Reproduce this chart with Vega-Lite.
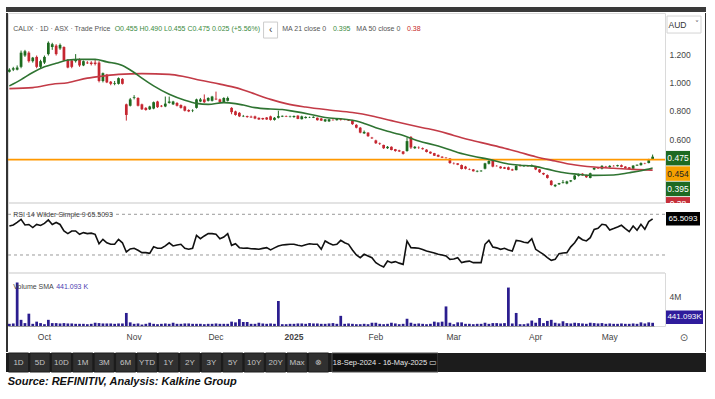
{
"$schema": "https://vega.github.io/schema/vega-lite/v6.json",
"background": "#ffffff",
"padding": {"left": 5, "top": 7, "right": 2, "bottom": 2},
"config": {"view": {"stroke": null}, "font": "Liberation Sans", "axis": {"grid": false, "title": null}},
"title": {"text": "Source: REFINITIV, Analysis: Kalkine Group", "orient": "bottom", "anchor": "start", "frame": "bounds", "font": "Liberation Sans", "fontSize": 11, "fontWeight": "bold", "fontStyle": "italic", "color": "#111111", "offset": 3, "dx": 2},
"spacing": 0,
"datasets": {
"px": [
{"d":"2024-09-18","o":1.075,"h":1.10,"l":1.07,"c":1.09,"v":300000,"r":58.5,"m21":0.975,"m50":0.956},
{"d":"2024-09-19","o":1.09,"h":1.11,"l":1.08,"c":1.10,"v":350000,"r":59.5},
{"d":"2024-09-20","o":1.09,"h":1.12,"l":1.085,"c":1.105,"v":6000000,"r":62},
{"d":"2024-09-23","o":1.11,"h":1.225,"l":1.10,"c":1.21,"v":850000,"r":65,"m21":1.02},
{"d":"2024-09-24","o":1.19,"h":1.23,"l":1.18,"c":1.22,"v":400000,"r":59.5},
{"d":"2024-09-25","o":1.21,"h":1.22,"l":1.14,"c":1.15,"v":1700000,"r":60},
{"d":"2024-09-26","o":1.15,"h":1.18,"l":1.14,"c":1.175,"v":300000,"r":57,"m21":1.07,"m50":0.963},
{"d":"2024-09-27","o":1.18,"h":1.19,"l":1.10,"c":1.11,"v":600000,"r":60},
{"d":"2024-09-30","o":1.11,"h":1.16,"l":1.10,"c":1.15,"v":400000,"r":59},
{"d":"2024-10-01","o":1.14,"h":1.19,"l":1.13,"c":1.18,"v":250000,"r":61,"m21":1.11},
{"d":"2024-10-02","o":1.20,"h":1.29,"l":1.19,"c":1.28,"v":850000,"r":64.4},
{"d":"2024-10-03","o":1.25,"h":1.28,"l":1.23,"c":1.27,"v":400000,"r":60,"m50":0.987},
{"d":"2024-10-04","o":1.26,"h":1.27,"l":1.19,"c":1.20,"v":400000,"r":62,"m21":1.135},
{"d":"2024-10-07","o":1.24,"h":1.275,"l":1.23,"c":1.265,"v":350000,"r":60},
{"d":"2024-10-08","o":1.25,"h":1.255,"l":1.15,"c":1.155,"v":400000,"r":53.6},
{"d":"2024-10-09","o":1.16,"h":1.165,"l":1.10,"c":1.105,"v":350000,"r":51,"m21":1.158,"m50":0.998},
{"d":"2024-10-10","o":1.155,"h":1.16,"l":1.10,"c":1.11,"v":350000,"r":53.6},
{"d":"2024-10-11","o":1.15,"h":1.20,"l":1.14,"c":1.16,"v":300000,"r":53.6},
{"d":"2024-10-14","o":1.16,"h":1.17,"l":1.11,"c":1.12,"v":300000,"r":50.3,"m21":1.163},
{"d":"2024-10-15","o":1.12,"h":1.155,"l":1.115,"c":1.15,"v":300000,"r":52},
{"d":"2024-10-16","o":1.14,"h":1.15,"l":1.13,"c":1.135,"v":250000,"r":51,"m50":1.03},
{"d":"2024-10-17","o":1.14,"h":1.15,"l":1.12,"c":1.13,"v":300000,"r":51.5},
{"d":"2024-10-18","o":1.14,"h":1.16,"l":1.12,"c":1.13,"v":450000,"r":50.3,"m21":1.163},
{"d":"2024-10-21","o":1.14,"h":1.15,"l":1.00,"c":1.01,"v":400000,"r":41},
{"d":"2024-10-22","o":1.01,"h":1.07,"l":1.00,"c":1.065,"v":350000,"r":45.4,"m50":1.045},
{"d":"2024-10-23","o":1.055,"h":1.06,"l":0.995,"c":1.00,"v":350000,"r":42,"m21":1.145},
{"d":"2024-10-24","o":1.005,"h":1.01,"l":0.98,"c":0.99,"v":350000,"r":40.5},
{"d":"2024-10-25","o":0.99,"h":1.01,"l":0.98,"c":0.995,"v":300000,"r":40.5},
{"d":"2024-10-28","o":0.99,"h":1.035,"l":0.985,"c":1.03,"v":350000,"r":45.4,"m50":1.057},
{"d":"2024-10-29","o":1.025,"h":1.03,"l":0.985,"c":0.99,"v":350000,"r":42,"m21":1.12},
{"d":"2024-10-30","o":0.845,"h":0.85,"l":0.73,"c":0.77,"v":1800000,"r":33},
{"d":"2024-10-31","o":0.835,"h":0.89,"l":0.83,"c":0.88,"v":500000,"r":36},
{"d":"2024-11-01","o":0.89,"h":0.91,"l":0.88,"c":0.895,"v":300000,"r":36.6,"m21":1.07},
{"d":"2024-11-04","o":0.89,"h":0.895,"l":0.83,"c":0.835,"v":350000,"r":34.6},
{"d":"2024-11-05","o":0.845,"h":0.85,"l":0.805,"c":0.81,"v":200000,"r":32.3,"m21":1.03,"m50":1.062},
{"d":"2024-11-06","o":0.82,"h":0.825,"l":0.80,"c":0.805,"v":300000,"r":32.3},
{"d":"2024-11-07","o":0.81,"h":0.835,"l":0.805,"c":0.83,"v":450000,"r":31.6},
{"d":"2024-11-08","o":0.815,"h":0.865,"l":0.81,"c":0.86,"v":300000,"r":38,"m21":0.975},
{"d":"2024-11-11","o":0.865,"h":0.87,"l":0.82,"c":0.825,"v":250000,"r":36.6},
{"d":"2024-11-12","o":0.835,"h":0.84,"l":0.825,"c":0.83,"v":300000,"r":36.6},
{"d":"2024-11-13","o":0.83,"h":0.90,"l":0.825,"c":0.85,"v":350000,"r":38.9},
{"d":"2024-11-14","o":0.855,"h":0.90,"l":0.85,"c":0.865,"v":300000,"r":42,"m21":0.916,"m50":1.057},
{"d":"2024-11-15","o":0.845,"h":0.87,"l":0.84,"c":0.865,"v":450000,"r":38.9},
{"d":"2024-11-18","o":0.855,"h":0.86,"l":0.83,"c":0.835,"v":300000,"r":39.8},
{"d":"2024-11-19","o":0.84,"h":0.845,"l":0.815,"c":0.82,"v":300000,"r":40.5},
{"d":"2024-11-20","o":0.83,"h":0.835,"l":0.795,"c":0.80,"v":350000,"r":36.6,"m21":0.874,"m50":1.04},
{"d":"2024-11-21","o":0.805,"h":0.81,"l":0.79,"c":0.795,"v":350000,"r":35.6},
{"d":"2024-11-22","o":0.80,"h":0.81,"l":0.79,"c":0.803,"v":300000,"r":36.6},
{"d":"2024-11-25","o":0.82,"h":0.885,"l":0.815,"c":0.88,"v":300000,"r":49.3,"m21":0.852},
{"d":"2024-11-26","o":0.865,"h":0.89,"l":0.86,"c":0.88,"v":300000,"r":46,"m50":1.015},
{"d":"2024-11-27","o":0.88,"h":0.915,"l":0.855,"c":0.86,"v":250000,"r":48.7},
{"d":"2024-11-28","o":0.87,"h":0.895,"l":0.865,"c":0.89,"v":300000,"r":51,"m21":0.845},
{"d":"2024-11-29","o":0.87,"h":0.905,"l":0.865,"c":0.90,"v":300000,"r":51},
{"d":"2024-12-02","o":0.885,"h":0.935,"l":0.875,"c":0.88,"v":350000,"r":50.3},
{"d":"2024-12-03","o":0.88,"h":0.885,"l":0.855,"c":0.86,"v":300000,"r":46,"m50":0.988},
{"d":"2024-12-04","o":0.86,"h":0.895,"l":0.855,"c":0.89,"v":300000,"r":47.7,"m21":0.857},
{"d":"2024-12-05","o":0.87,"h":0.90,"l":0.865,"c":0.89,"v":300000,"r":51},
{"d":"2024-12-06","o":0.82,"h":0.825,"l":0.775,"c":0.79,"v":600000,"r":39.5,"m50":0.97},
{"d":"2024-12-09","o":0.795,"h":0.80,"l":0.765,"c":0.77,"v":500000,"r":41,"m21":0.85},
{"d":"2024-12-10","o":0.785,"h":0.79,"l":0.755,"c":0.76,"v":950000,"r":37.2},
{"d":"2024-12-11","o":0.76,"h":0.77,"l":0.755,"c":0.763,"v":550000,"r":36.6,"m21":0.84,"m50":0.947},
{"d":"2024-12-12","o":0.762,"h":0.765,"l":0.75,"c":0.755,"v":550000,"r":36.8},
{"d":"2024-12-13","o":0.758,"h":0.765,"l":0.75,"c":0.752,"v":300000,"r":36.2},
{"d":"2024-12-16","o":0.76,"h":0.765,"l":0.74,"c":0.745,"v":300000,"r":36,"m21":0.822,"m50":0.918},
{"d":"2024-12-17","o":0.75,"h":0.752,"l":0.735,"c":0.738,"v":450000,"r":35.6},
{"d":"2024-12-18","o":0.748,"h":0.75,"l":0.735,"c":0.739,"v":350000,"r":36.5},
{"d":"2024-12-19","o":0.752,"h":0.755,"l":0.735,"c":0.738,"v":300000,"r":37.2},
{"d":"2024-12-20","o":0.76,"h":0.765,"l":0.73,"c":0.735,"v":350000,"r":35,"m21":0.812,"m50":0.88},
{"d":"2024-12-23","o":0.735,"h":0.755,"l":0.73,"c":0.75,"v":300000,"r":37},
{"d":"2024-12-24","o":0.75,"h":0.80,"l":0.745,"c":0.762,"v":3450000,"r":38.9},
{"d":"2024-12-27","o":0.758,"h":0.766,"l":0.755,"c":0.764,"v":250000,"r":39.8,"m21":0.808},
{"d":"2024-12-30","o":0.762,"h":0.766,"l":0.755,"c":0.758,"v":250000,"r":40.2,"m50":0.85},
{"d":"2024-12-31","o":0.758,"h":0.765,"l":0.752,"c":0.761,"v":300000,"r":40.5},
{"d":"2025-01-02","o":0.755,"h":0.766,"l":0.75,"c":0.763,"v":300000,"r":40.5,"m21":0.795},
{"d":"2025-01-03","o":0.765,"h":0.768,"l":0.74,"c":0.742,"v":350000,"r":39.5},
{"d":"2025-01-06","o":0.74,"h":0.765,"l":0.738,"c":0.76,"v":350000,"r":38.9},
{"d":"2025-01-07","o":0.748,"h":0.76,"l":0.745,"c":0.756,"v":300000,"r":40,"m50":0.826},
{"d":"2025-01-08","o":0.752,"h":0.758,"l":0.748,"c":0.754,"v":400000,"r":41,"m21":0.775},
{"d":"2025-01-09","o":0.75,"h":0.76,"l":0.748,"c":0.757,"v":350000,"r":40.5},
{"d":"2025-01-10","o":0.75,"h":0.752,"l":0.73,"c":0.733,"v":350000,"r":40.5},
{"d":"2025-01-13","o":0.745,"h":0.748,"l":0.728,"c":0.73,"v":300000,"r":35.6},
{"d":"2025-01-14","o":0.725,"h":0.74,"l":0.72,"c":0.739,"v":300000,"r":43.8,"m21":0.752},
{"d":"2025-01-15","o":0.725,"h":0.742,"l":0.72,"c":0.739,"v":350000,"r":41.5,"m50":0.805},
{"d":"2025-01-16","o":0.735,"h":0.74,"l":0.73,"c":0.733,"v":400000,"r":39.8},
{"d":"2025-01-17","o":0.733,"h":0.745,"l":0.73,"c":0.742,"v":300000,"r":40.5},
{"d":"2025-01-20","o":0.74,"h":0.745,"l":0.73,"c":0.735,"v":1400000,"r":44.4},
{"d":"2025-01-21","o":0.738,"h":0.742,"l":0.732,"c":0.736,"v":300000,"r":42,"m21":0.74},
{"d":"2025-01-22","o":0.736,"h":0.74,"l":0.728,"c":0.73,"v":350000,"r":40.5},
{"d":"2025-01-23","o":0.73,"h":0.735,"l":0.70,"c":0.705,"v":300000,"r":35,"m50":0.787},
{"d":"2025-01-24","o":0.70,"h":0.705,"l":0.675,"c":0.68,"v":250000,"r":30,"m21":0.727},
{"d":"2025-01-28","o":0.68,"h":0.685,"l":0.64,"c":0.645,"v":250000,"r":27.4},
{"d":"2025-01-29","o":0.64,"h":0.66,"l":0.635,"c":0.65,"v":300000,"r":30.7,"m21":0.71},
{"d":"2025-01-30","o":0.645,"h":0.648,"l":0.615,"c":0.62,"v":250000,"r":29},
{"d":"2025-01-31","o":0.61,"h":0.615,"l":0.60,"c":0.605,"v":450000,"r":27.4,"m50":0.763},
{"d":"2025-02-03","o":0.59,"h":0.595,"l":0.565,"c":0.57,"v":450000,"r":22.5,"m21":0.68},
{"d":"2025-02-04","o":0.57,"h":0.575,"l":0.558,"c":0.566,"v":300000,"r":20},
{"d":"2025-02-05","o":0.558,"h":0.56,"l":0.53,"c":0.535,"v":250000,"r":18.2},
{"d":"2025-02-06","o":0.535,"h":0.55,"l":0.53,"c":0.545,"v":300000,"r":24,"m21":0.655},
{"d":"2025-02-07","o":0.545,"h":0.548,"l":0.52,"c":0.522,"v":450000,"r":22.5,"m50":0.73},
{"d":"2025-02-10","o":0.528,"h":0.53,"l":0.51,"c":0.515,"v":350000,"r":23.5},
{"d":"2025-02-11","o":0.52,"h":0.524,"l":0.508,"c":0.512,"v":250000,"r":22,"m21":0.633},
{"d":"2025-02-12","o":0.512,"h":0.515,"l":0.49,"c":0.495,"v":300000,"r":20.8},
{"d":"2025-02-13","o":0.515,"h":0.61,"l":0.51,"c":0.585,"v":1000000,"r":43.8,"m50":0.704},
{"d":"2025-02-14","o":0.615,"h":0.62,"l":0.53,"c":0.54,"v":450000,"r":37.2},
{"d":"2025-02-17","o":0.535,"h":0.55,"l":0.53,"c":0.545,"v":300000,"r":37},
{"d":"2025-02-18","o":0.54,"h":0.548,"l":0.53,"c":0.538,"v":350000,"r":36.6,"m21":0.586},
{"d":"2025-02-19","o":0.535,"h":0.54,"l":0.525,"c":0.528,"v":300000,"r":35.5,"m50":0.68},
{"d":"2025-02-20","o":0.525,"h":0.528,"l":0.505,"c":0.508,"v":250000,"r":34},
{"d":"2025-02-21","o":0.51,"h":0.512,"l":0.495,"c":0.498,"v":300000,"r":33},
{"d":"2025-02-24","o":0.50,"h":0.502,"l":0.48,"c":0.482,"v":600000,"r":32},
{"d":"2025-02-25","o":0.488,"h":0.49,"l":0.472,"c":0.475,"v":500000,"r":30.7,"m21":0.55,"m50":0.657},
{"d":"2025-02-26","o":0.475,"h":0.478,"l":0.465,"c":0.468,"v":600000,"r":30},
{"d":"2025-02-27","o":0.468,"h":0.472,"l":0.462,"c":0.465,"v":2700000,"r":29},
{"d":"2025-02-28","o":0.462,"h":0.465,"l":0.425,"c":0.43,"v":450000,"r":25.7},
{"d":"2025-03-03","o":0.43,"h":0.435,"l":0.42,"c":0.428,"v":250000,"r":26,"m50":0.625},
{"d":"2025-03-04","o":0.428,"h":0.43,"l":0.415,"c":0.418,"v":500000,"r":27.4,"m21":0.505},
{"d":"2025-03-05","o":0.416,"h":0.42,"l":0.385,"c":0.388,"v":500000,"r":22.5},
{"d":"2025-03-06","o":0.405,"h":0.41,"l":0.385,"c":0.39,"v":300000,"r":23.5},
{"d":"2025-03-07","o":0.388,"h":0.392,"l":0.38,"c":0.385,"v":300000,"r":24,"m50":0.595},
{"d":"2025-03-10","o":0.385,"h":0.388,"l":0.37,"c":0.372,"v":250000,"r":22.5,"m21":0.478},
{"d":"2025-03-11","o":0.37,"h":0.378,"l":0.365,"c":0.375,"v":300000,"r":22.5},
{"d":"2025-03-12","o":0.372,"h":0.38,"l":0.368,"c":0.376,"v":300000,"r":22.5},
{"d":"2025-03-13","o":0.39,"h":0.432,"l":0.385,"c":0.428,"v":450000,"r":40.5},
{"d":"2025-03-14","o":0.425,"h":0.45,"l":0.42,"c":0.445,"v":300000,"r":44.4,"m21":0.456,"m50":0.562},
{"d":"2025-03-17","o":0.445,"h":0.448,"l":0.40,"c":0.405,"v":400000,"r":37.9},
{"d":"2025-03-18","o":0.41,"h":0.415,"l":0.405,"c":0.408,"v":400000,"r":37},
{"d":"2025-03-19","o":0.405,"h":0.408,"l":0.39,"c":0.393,"v":350000,"r":35.6},
{"d":"2025-03-20","o":0.40,"h":0.403,"l":0.388,"c":0.39,"v":400000,"r":36.6,"m50":0.535},
{"d":"2025-03-21","o":0.40,"h":0.405,"l":0.38,"c":0.383,"v":5300000,"r":35,"m21":0.423},
{"d":"2025-03-24","o":0.385,"h":0.39,"l":0.375,"c":0.378,"v":350000,"r":34},
{"d":"2025-03-25","o":0.38,"h":0.415,"l":0.378,"c":0.41,"v":1800000,"r":44.4},
{"d":"2025-03-26","o":0.41,"h":0.42,"l":0.405,"c":0.408,"v":250000,"r":43.8,"m21":0.415,"m50":0.505},
{"d":"2025-03-27","o":0.408,"h":0.412,"l":0.402,"c":0.41,"v":250000,"r":42.5},
{"d":"2025-03-28","o":0.41,"h":0.415,"l":0.405,"c":0.407,"v":350000,"r":42},
{"d":"2025-03-31","o":0.407,"h":0.42,"l":0.405,"c":0.415,"v":750000,"r":46,"m21":0.41},
{"d":"2025-04-01","o":0.405,"h":0.41,"l":0.38,"c":0.385,"v":450000,"r":35.6,"m50":0.475},
{"d":"2025-04-02","o":0.385,"h":0.388,"l":0.36,"c":0.365,"v":1100000,"r":33},
{"d":"2025-04-03","o":0.36,"h":0.362,"l":0.345,"c":0.35,"v":400000,"r":30.7},
{"d":"2025-04-04","o":0.345,"h":0.35,"l":0.32,"c":0.325,"v":700000,"r":27.5,"m21":0.387},
{"d":"2025-04-07","o":0.305,"h":0.31,"l":0.27,"c":0.275,"v":850000,"r":24.8},
{"d":"2025-04-08","o":0.266,"h":0.28,"l":0.26,"c":0.276,"v":450000,"r":25.7,"m50":0.445},
{"d":"2025-04-09","o":0.28,"h":0.29,"l":0.275,"c":0.288,"v":350000,"r":31.3},
{"d":"2025-04-10","o":0.29,"h":0.31,"l":0.285,"c":0.295,"v":650000,"r":32,"m21":0.363},
{"d":"2025-04-11","o":0.285,"h":0.305,"l":0.28,"c":0.30,"v":400000,"r":32.3},
{"d":"2025-04-14","o":0.30,"h":0.31,"l":0.295,"c":0.308,"v":350000,"r":38,"m50":0.422},
{"d":"2025-04-15","o":0.315,"h":0.345,"l":0.31,"c":0.342,"v":450000,"r":42},
{"d":"2025-04-16","o":0.34,"h":0.355,"l":0.335,"c":0.352,"v":400000,"r":47.7,"m21":0.35},
{"d":"2025-04-17","o":0.355,"h":0.358,"l":0.34,"c":0.343,"v":350000,"r":45},
{"d":"2025-04-22","o":0.345,"h":0.348,"l":0.325,"c":0.33,"v":300000,"r":43.8},
{"d":"2025-04-23","o":0.325,"h":0.362,"l":0.322,"c":0.358,"v":450000,"r":47},
{"d":"2025-04-24","o":0.385,"h":0.40,"l":0.38,"c":0.395,"v":400000,"r":55.2,"m21":0.343,"m50":0.402},
{"d":"2025-04-28","o":0.395,"h":0.40,"l":0.388,"c":0.392,"v":350000,"r":56.2},
{"d":"2025-04-29","o":0.39,"h":0.415,"l":0.385,"c":0.41,"v":400000,"r":60.2},
{"d":"2025-04-30","o":0.405,"h":0.41,"l":0.395,"c":0.40,"v":300000,"r":59.5},
{"d":"2025-05-01","o":0.40,"h":0.415,"l":0.398,"c":0.41,"v":350000,"r":54.6},
{"d":"2025-05-02","o":0.41,"h":0.415,"l":0.405,"c":0.408,"v":300000,"r":56,"m21":0.346,"m50":0.393},
{"d":"2025-05-05","o":0.408,"h":0.418,"l":0.405,"c":0.415,"v":300000,"r":57.5},
{"d":"2025-05-06","o":0.415,"h":0.42,"l":0.40,"c":0.403,"v":350000,"r":59.2},
{"d":"2025-05-07","o":0.405,"h":0.408,"l":0.39,"c":0.395,"v":300000,"r":56},
{"d":"2025-05-08","o":0.40,"h":0.402,"l":0.385,"c":0.388,"v":300000,"r":53,"m21":0.362},
{"d":"2025-05-09","o":0.39,"h":0.415,"l":0.388,"c":0.412,"v":350000,"r":58.5,"m50":0.385},
{"d":"2025-05-12","o":0.412,"h":0.42,"l":0.41,"c":0.418,"v":300000,"r":54.3},
{"d":"2025-05-13","o":0.415,"h":0.435,"l":0.412,"c":0.43,"v":500000,"r":60.2,"m21":0.376},
{"d":"2025-05-14","o":0.428,"h":0.432,"l":0.422,"c":0.426,"v":350000,"r":55.2},
{"d":"2025-05-15","o":0.43,"h":0.46,"l":0.428,"c":0.45,"v":500000,"r":62.8},
{"d":"2025-05-16","o":0.455,"h":0.49,"l":0.455,"c":0.475,"v":441093,"r":65.5093,"m21":0.395,"m50":0.38}
],
"tags": [
{"tag":"a","lab":"0.475"},{"tag":"b","lab":"0.454"},{"tag":"c","lab":"0.395"},{"tag":"d","lab":"0.38"}
]
},
"vconcat": [
{"width": 700, "height": 5, "view": {"fill": "#3a3a3a", "stroke": null}, "data": {"values": []}, "mark": "rule", "encoding": {}},
{"hconcat": [
 {"width": 2, "height": 339, "view": {"fill": "#333333", "stroke": null}, "data": {"values": []}, "mark": "rule", "encoding": {}},
 {"width": 657, "height": 313, "view": {"stroke": "#dadada"}, "data": {"name": "px"},
  "layer": [
   {"layer": [
     {"mark": {"type": "rule", "strokeWidth": 1},
      "encoding": {"x": {"field": "d", "type": "ordinal", "scale": {"type": "band", "range": [0, 646], "paddingInner": 0.3, "paddingOuter": 0},
        "axis": {"orient": "bottom", "values": ["2024-10-01", "2024-11-01", "2024-12-02", "2025-01-02", "2025-02-03", "2025-03-03", "2025-04-01", "2025-05-01"],
         "labelExpr": "datum.value == '2024-10-01' ? 'Oct' : datum.value == '2024-11-01' ? 'Nov' : datum.value == '2024-12-02' ? 'Dec' : datum.value == '2025-01-02' ? '2025' : datum.value == '2025-02-03' ? 'Feb' : datum.value == '2025-03-03' ? 'Mar' : datum.value == '2025-04-01' ? 'Apr' : 'May'",
         "ticks": false, "domain": true, "domainColor": "#9a9a9a", "labelPadding": 6, "labelFontSize": 8.5, "labelColor": "#444444", "labelAngle": 0,
         "labelFontWeight": {"condition": {"test": "datum.value == '2025-01-02'", "value": "bold"}, "value": "normal"}, "grid": false, "title": null}},
       "y": {"field": "l", "type": "quantitative", "scale": {"domain": [0.1477, 1.4905], "range": [190, 0], "nice": false, "zero": false}, "axis": null},
       "y2": {"field": "h"},
       "color": {"condition": {"test": "datum.c >= datum.o", "value": "#1e6b20"}, "value": "#c52630"}}},
     {"mark": {"type": "bar"},
      "encoding": {"x": {"field": "d", "type": "ordinal"}, "y": {"field": "o", "type": "quantitative", "axis": null}, "y2": {"field": "c"},
       "color": {"condition": {"test": "datum.c >= datum.o", "value": "#1e6b20"}, "value": "#c52630"}}},
     {"data": {"values": [{"lvl": 0.454}]}, "mark": {"type": "rule", "color": "#ff9800", "strokeWidth": 1.6}, "encoding": {"y": {"field": "lvl", "type": "quantitative", "axis": null}}},
     {"data": {"values": [{"lvl": 0.1477}]}, "mark": {"type": "rule", "color": "#dadada", "strokeWidth": 1.5}, "encoding": {"y": {"field": "lvl", "type": "quantitative", "axis": null}}},
     {"transform": [{"filter": "isValid(datum.m50)"}], "mark": {"type": "line", "color": "#c33b47", "strokeWidth": 1.6, "interpolate": "monotone"},
      "encoding": {"x": {"field": "d", "type": "ordinal"}, "y": {"field": "m50", "type": "quantitative", "axis": null}}},
     {"transform": [{"filter": "isValid(datum.m21)"}], "mark": {"type": "line", "color": "#2f7432", "strokeWidth": 1.6, "interpolate": "monotone"},
      "encoding": {"x": {"field": "d", "type": "ordinal"}, "y": {"field": "m21", "type": "quantitative", "axis": null}}},
     {"transform": [{"filter": "datum.d == '2024-09-19'"}], "mark": {"type": "text", "text": "CALIX · 1D · ASX · Trade Price", "align": "left", "baseline": "middle", "fontSize": 7, "color": "#555555"},
      "encoding": {"x": {"field": "d", "type": "ordinal"}, "y": {"datum": 1.377, "axis": null}}},
     {"transform": [{"filter": "datum.d == '2024-10-25'"}], "mark": {"type": "text", "text": "O0.455 H0.490 L0.455 C0.475 0.025 (+5.56%)", "align": "left", "baseline": "middle", "fontSize": 7, "color": "#3b8a3e"},
      "encoding": {"x": {"field": "d", "type": "ordinal"}, "y": {"datum": 1.377, "axis": null}}},
     {"transform": [{"filter": "datum.d == '2024-12-20'"}], "mark": {"type": "tick", "orient": "horizontal", "size": 14, "thickness": 16, "filled": true, "fill": "#ffffff", "stroke": "#cccccc", "strokeWidth": 1, "opacity": 1},
      "encoding": {"x": {"field": "d", "type": "ordinal"}, "y": {"datum": 1.37, "axis": null}}},
     {"transform": [{"filter": "datum.d == '2024-12-20'"}], "mark": {"type": "text", "text": "‹", "align": "center", "baseline": "middle", "fontSize": 10, "color": "#444444"},
      "encoding": {"x": {"field": "d", "type": "ordinal"}, "y": {"datum": 1.372, "axis": null}}},
     {"transform": [{"filter": "datum.d == '2024-12-27'"}], "mark": {"type": "text", "text": "MA 21 close 0", "align": "left", "baseline": "middle", "fontSize": 7, "color": "#555555"},
      "encoding": {"x": {"field": "d", "type": "ordinal"}, "y": {"datum": 1.377, "axis": null}}},
     {"transform": [{"filter": "datum.d == '2025-01-16'"}], "mark": {"type": "text", "text": "0.395", "align": "left", "baseline": "middle", "fontSize": 7, "color": "#3b8a3e"},
      "encoding": {"x": {"field": "d", "type": "ordinal"}, "y": {"datum": 1.377, "axis": null}}},
     {"transform": [{"filter": "datum.d == '2025-01-24'"}], "mark": {"type": "text", "text": "MA 50 close 0", "align": "left", "baseline": "middle", "fontSize": 7, "color": "#555555"},
      "encoding": {"x": {"field": "d", "type": "ordinal"}, "y": {"datum": 1.377, "axis": null}}},
     {"transform": [{"filter": "datum.d == '2025-02-13'"}], "mark": {"type": "text", "text": "0.38", "align": "left", "baseline": "middle", "fontSize": 7, "color": "#c62828"},
      "encoding": {"x": {"field": "d", "type": "ordinal"}, "y": {"datum": 1.377, "axis": null}}}
   ]},
   {"layer": [
     {"data": {"values": [{"lvl": 70}, {"lvl": 30}]}, "mark": {"type": "rule", "color": "#9a9a9a", "strokeDash": [3, 3], "strokeWidth": 1},
      "encoding": {"y": {"field": "lvl", "type": "quantitative", "scale": {"domain": [12.3, 81.1], "range": [260, 190], "nice": false, "zero": false}, "axis": null}}},
     {"data": {"values": [{"lvl": 12.3}]}, "mark": {"type": "rule", "color": "#dadada", "strokeWidth": 1.5}, "encoding": {"y": {"field": "lvl", "type": "quantitative", "axis": null}}},
     {"mark": {"type": "line", "color": "#111111", "strokeWidth": 1.6},
      "encoding": {"x": {"field": "d", "type": "ordinal"}, "y": {"field": "r", "type": "quantitative", "axis": null}}},
     {"transform": [{"filter": "datum.d == '2024-09-19'"}], "mark": {"type": "text", "text": "RSI 14 Wilder Simple 9  65.5093", "align": "left", "baseline": "middle", "fontSize": 7, "color": "#444444"},
      "encoding": {"x": {"field": "d", "type": "ordinal"}, "y": {"datum": 69.3, "axis": null}}}
   ]},
   {"layer": [
     {"mark": {"type": "bar", "color": "#2b1d8f"},
      "encoding": {"x": {"field": "d", "type": "ordinal"}, "y": {"field": "v", "type": "quantitative", "scale": {"domain": [0, 7310000], "range": [313, 260], "nice": false}, "axis": null}}},
     {"transform": [{"filter": "datum.d == '2024-09-19'"}], "mark": {"type": "text", "text": "Volume SMA", "align": "left", "baseline": "middle", "fontSize": 7, "color": "#444444"},
      "encoding": {"x": {"field": "d", "type": "ordinal"}, "y": {"datum": 5380000, "axis": null}}},
     {"transform": [{"filter": "datum.d == '2024-10-04'"}], "mark": {"type": "text", "text": "441.093 K", "align": "left", "baseline": "middle", "fontSize": 7, "color": "#4a3cb0"},
      "encoding": {"x": {"field": "d", "type": "ordinal"}, "y": {"datum": 5380000, "axis": null}}}
   ]}
  ],
  "resolve": {"scale": {"y": "independent"}, "axis": {"y": "independent"}}},
 {"width": 40, "height": 313,
  "layer": [
   {"data": {"values": [{"k": 1}]},
    "layer": [
     {"mark": {"type": "tick", "orient": "horizontal", "size": 34, "thickness": 17, "filled": true, "fill": "#ffffff", "stroke": "#d4d4d4", "strokeWidth": 1, "opacity": 1},
      "encoding": {"x": {"datum": 0.475, "type": "quantitative", "scale": {"domain": [0, 1]}, "axis": null},
       "y": {"datum": 1.409, "type": "quantitative", "scale": {"domain": [0.1477, 1.4905], "range": [190, 0], "nice": false, "zero": false},
        "axis": {"orient": "left", "values": [0.6, 0.8, 1.0, 1.2], "format": ".3f", "ticks": false, "tickSize": 0, "labelAlign": "left", "labelBaseline": "middle", "labelPadding": -4, "labelFontSize": 8.5, "labelColor": "#444444", "domain": false, "grid": false, "title": null}}}},
     {"mark": {"type": "text", "text": "AUD", "align": "left", "baseline": "middle", "fontSize": 8.5, "color": "#333333"},
      "encoding": {"x": {"datum": 0.0875, "type": "quantitative"}, "y": {"datum": 1.409, "type": "quantitative"}}},
     {"mark": {"type": "text", "text": "˅", "align": "center", "baseline": "middle", "fontSize": 8, "color": "#666666", "font": "DejaVu Sans"},
      "encoding": {"x": {"datum": 0.8, "type": "quantitative"}, "y": {"datum": 1.405, "type": "quantitative"}}}
    ]},
   {"data": {"name": "tags"},
    "layer": [
     {"mark": {"type": "tick", "orient": "horizontal", "size": 24, "thickness": 14.5, "opacity": 1},
      "encoding": {"x": {"datum": 0.325, "type": "quantitative"},
       "y": {"field": "tag", "type": "nominal", "scale": {"type": "band", "domain": ["a", "b", "c", "d"], "range": [137.5, 199], "paddingInner": 0, "paddingOuter": 0}, "axis": null},
       "color": {"field": "tag", "type": "nominal", "scale": {"domain": ["a", "b", "c", "d"], "range": ["#1e6a22", "#f5a000", "#1e6a22", "#c6303a"]}, "legend": null}}},
     {"mark": {"type": "text", "fontSize": 8.5, "baseline": "middle", "align": "center"},
      "encoding": {"x": {"datum": 0.325, "type": "quantitative"},
       "y": {"field": "tag", "type": "nominal"},
       "text": {"field": "lab"},
       "color": {"condition": {"test": "datum.tag == 'b'", "value": "#222222"}, "value": "#ffffff"}}}
    ]},
   {"data": {"values": [{"k": 1}]},
    "layer": [
     {"mark": {"type": "rect", "fill": "#ffffff"},
      "encoding": {"y": {"datum": 12.3, "type": "quantitative", "scale": {"domain": [12.3, 81.1], "range": [260, 190], "nice": false, "zero": false},
        "axis": {"orient": "left", "values": [40], "format": ".4f", "ticks": false, "tickSize": 0, "labelAlign": "left", "labelBaseline": "middle", "labelPadding": -4, "labelFontSize": 8.5, "labelColor": "#444444", "domain": false, "grid": false, "title": null}},
       "y2": {"datum": 81.1}}},
     {"mark": {"type": "tick", "orient": "horizontal", "size": 34, "thickness": 13.5, "filled": true, "color": "#000000", "opacity": 1},
      "encoding": {"x": {"datum": 0.45, "type": "quantitative"}, "y": {"datum": 65.5093, "type": "quantitative"}}},
     {"mark": {"type": "text", "text": "65.5093", "align": "center", "baseline": "middle", "fontSize": 8, "color": "#ffffff"},
      "encoding": {"x": {"datum": 0.45, "type": "quantitative"}, "y": {"datum": 65.5093, "type": "quantitative"}}}
    ]},
   {"data": {"values": [{"k": 1}]},
    "layer": [
     {"mark": {"type": "tick", "orient": "horizontal", "size": 37, "thickness": 13.5, "filled": true, "color": "#2f1c9c", "opacity": 1, "yOffset": -5.5},
      "encoding": {"x": {"datum": 0.4875, "type": "quantitative"},
       "y": {"datum": 441093, "type": "quantitative", "scale": {"domain": [0, 7310000], "range": [313, 260], "nice": false},
        "axis": {"orient": "left", "values": [4000000], "labelExpr": "'4M'", "ticks": false, "tickSize": 0, "labelAlign": "left", "labelBaseline": "middle", "labelPadding": -4, "labelFontSize": 8.5, "labelColor": "#444444", "domain": false, "grid": false, "title": null}}}},
     {"mark": {"type": "text", "text": "441.093K", "align": "center", "baseline": "middle", "fontSize": 8, "color": "#ffffff", "yOffset": -5.5},
      "encoding": {"x": {"datum": 0.4875, "type": "quantitative"}, "y": {"datum": 441093, "type": "quantitative"}}},
     {"mark": {"type": "text", "text": "⊙", "align": "center", "baseline": "middle", "fontSize": 10, "color": "#555555", "font": "DejaVu Sans"},
      "encoding": {"x": {"datum": 0.475, "type": "quantitative"}, "y": {"datum": -1660000, "type": "quantitative"}}}
    ]}
  ],
  "resolve": {"scale": {"y": "independent"}, "axis": {"y": "independent"}}},
 {"width": 1, "height": 339, "view": {"fill": "#333333", "stroke": null}, "data": {"values": []}, "mark": "rule", "encoding": {}}
], "spacing": 0, "bounds": "flush"},
{"hconcat": [
 {"width": 326, "height": 19, "view": {"fill": "#1c1c1c", "stroke": null},
  "data": {"values": [{"b": "1D"}, {"b": "5D"}, {"b": "10D"}, {"b": "1M"}, {"b": "3M"}, {"b": "6M"}, {"b": "YTD"}, {"b": "1Y"}, {"b": "2Y"}, {"b": "3Y"}, {"b": "5Y"}, {"b": "10Y"}, {"b": "20Y"}, {"b": "Max"}, {"b": "⊗"}]},
  "layer": [
   {"mark": {"type": "bar", "fill": "#303030", "stroke": "#1c1c1c", "strokeWidth": 1},
    "encoding": {"x": {"field": "b", "type": "nominal", "sort": null, "scale": {"type": "band", "range": [2, 323], "paddingInner": 0.06, "paddingOuter": 0.02}, "axis": null}}},
   {"mark": {"type": "text", "color": "#c4c4c4", "fontSize": 8, "baseline": "middle", "align": "center"},
    "encoding": {"x": {"field": "b", "type": "nominal", "sort": null}, "text": {"field": "b"}}}
  ]},
 {"width": 106, "height": 19, "view": {"fill": "#1c1c1c", "stroke": null},
  "data": {"values": [{"t": "18-Sep-2024 - 16-May-2025 ▭"}]},
  "layer": [
   {"mark": {"type": "rect", "fill": "#111111", "stroke": "#505050", "strokeWidth": 1}, "encoding": {}},
   {"mark": {"type": "text", "color": "#e6e6e6", "fontSize": 7.5, "baseline": "middle", "align": "center"}, "encoding": {"text": {"field": "t"}}}
  ]},
 {"width": 268, "height": 19, "view": {"fill": "#1c1c1c", "stroke": null}, "data": {"values": []}, "mark": "rule", "encoding": {}}
], "spacing": 0, "bounds": "flush"}
]
}
